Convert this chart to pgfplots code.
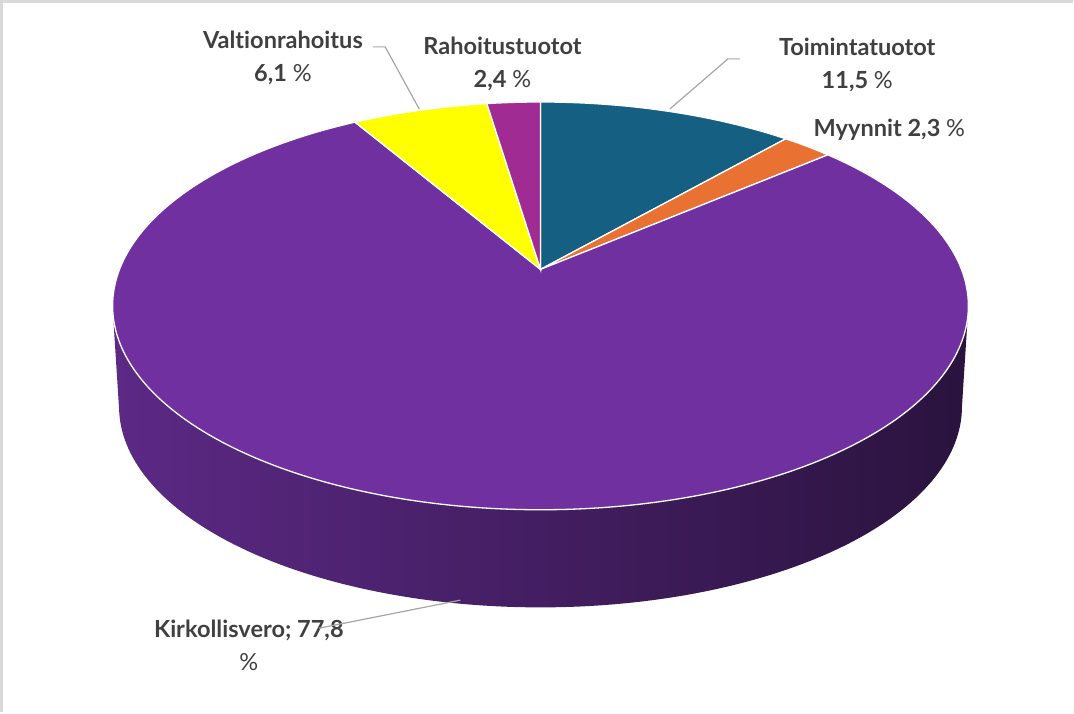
\documentclass[border=0pt]{standalone}
\usepackage{pgfplots}
\pgfplotsset{compat=1.18}
\usepackage{fontspec}
\setmainfont{Lato}[Ligatures=NoCommon, RawFeature={-liga;-clig;-dlig}]
\definecolor{cTeal}{HTML}{156082}
\definecolor{cOrange}{HTML}{E97132}
\definecolor{cPurple}{HTML}{7030A0}
\definecolor{cYellow}{HTML}{FFFF00}
\definecolor{cMagenta}{HTML}{A02B93}
\definecolor{cText}{HTML}{404040}
\definecolor{cLine}{HTML}{A6A6A6}
\definecolor{cFrame}{HTML}{D9D9D9}
\definecolor{sideL}{RGB}{92,41,133}
\definecolor{sideR}{RGB}{42,19,62}
\newcommand{\pc}{{\fontseries{m}\selectfont\%}}
% shares (per cent)
\def\vA{11.5}% Toimintatuotot
\def\vB{2.3}% Myynnit
\def\vC{77.8}% Kirkollisvero
\def\vD{6.1}% Valtionrahoitus
\def\vE{2.4}% Rahoitustuotot
\pgfmathsetmacro\tot{\vA+\vB+\vC+\vD+\vE}
\pgfmathsetmacro\aA{0}
\pgfmathsetmacro\aB{\aA+\vA/\tot*360}
\pgfmathsetmacro\aC{\aB+\vB/\tot*360}
\pgfmathsetmacro\aD{\aC+\vC/\tot*360}
\pgfmathsetmacro\aE{\aD+\vD/\tot*360}
\pgfmathsetmacro\aF{\aE+\vE/\tot*360}
\begin{document}
\begin{tikzpicture}
\begin{axis}[
  scale only axis, width=1074bp, height=715bp,
  xmin=0, xmax=1074, ymin=0, ymax=715, y dir=reverse,
  hide axis, clip=false, no markers,
  declare function={
    px(\t,\s)=543+\s*420*sin(\t)/(1+0.179*cos(\t));
    py(\t,\s,\o)=273+\o-\s*196.9*cos(\t)/(1+0.179*cos(\t));
  },
]
% side of the cake
\addplot[draw=none, left color=sideL, right color=sideR, samples=260, domain=0:318.76, variable=\u]
  ({ \u<159.38 ? px(100.31+\u,1) : px(259.69-(\u-159.38),0.985) },
   { \u<159.38 ? py(100.31+\u,1,0) : py(259.69-(\u-159.38),0.985,101) }) -- cycle;
% top face slices
\addplot[fill=cTeal, draw=white, line width=1.3bp, samples=60, domain=\aA:\aB, variable=\t]
  ({px(\t,1)},{py(\t,1,0)}) -- (axis cs:543,273) -- cycle;
\addplot[fill=cOrange, draw=white, line width=1.3bp, samples=20, domain=\aB:\aC, variable=\t]
  ({px(\t,1)},{py(\t,1,0)}) -- (axis cs:543,273) -- cycle;
\addplot[fill=cPurple, draw=white, line width=1.3bp, samples=300, domain=\aC:\aD, variable=\t]
  ({px(\t,1)},{py(\t,1,0)}) -- (axis cs:543,273) -- cycle;
\addplot[fill=cYellow, draw=white, line width=1.3bp, samples=30, domain=\aD:\aE, variable=\t]
  ({px(\t,1)},{py(\t,1,0)}) -- (axis cs:543,273) -- cycle;
\addplot[fill=cMagenta, draw=white, line width=1.3bp, samples=20, domain=\aE:\aF, variable=\t]
  ({px(\t,1)},{py(\t,1,0)}) -- (axis cs:543,273) -- cycle;
% frame
\draw[cFrame, line width=2.5bp] (axis cs:5,715) -- (axis cs:5,5.5) -- (axis cs:1074,5.5);
% leader lines
\draw[cLine, line width=1.2bp] (axis cs:376,51) -- (axis cs:388,51) -- (axis cs:422,113);
\draw[cLine, line width=1.2bp] (axis cs:742,63) -- (axis cs:730,63) -- (axis cs:672,113);
% labels
\tikzset{lab/.style={text=cText, align=center, inner sep=0pt, font=\fontsize{23.5bp}{33bp}\selectfont\bfseries}}
\node[lab] at (axis cs:286,62) {Valtionrahoitus\\6,1 \pc};
\node[lab] at (axis cs:505,68) {Rahoitustuotot\\2,4 \pc};
\node[lab] at (axis cs:859,69) {Toimintatuotot\\11,5 \pc};
\node[lab] at (axis cs:891,134) {Myynnit 2,3 \pc};
\node[lab] at (axis cs:252,648) {Kirkollisvero; 77,8\\\pc};
\draw[cLine, line width=1.2bp] (axis cs:322,631) -- (axis cs:463,603);
\end{axis}
\end{tikzpicture}
\end{document}
